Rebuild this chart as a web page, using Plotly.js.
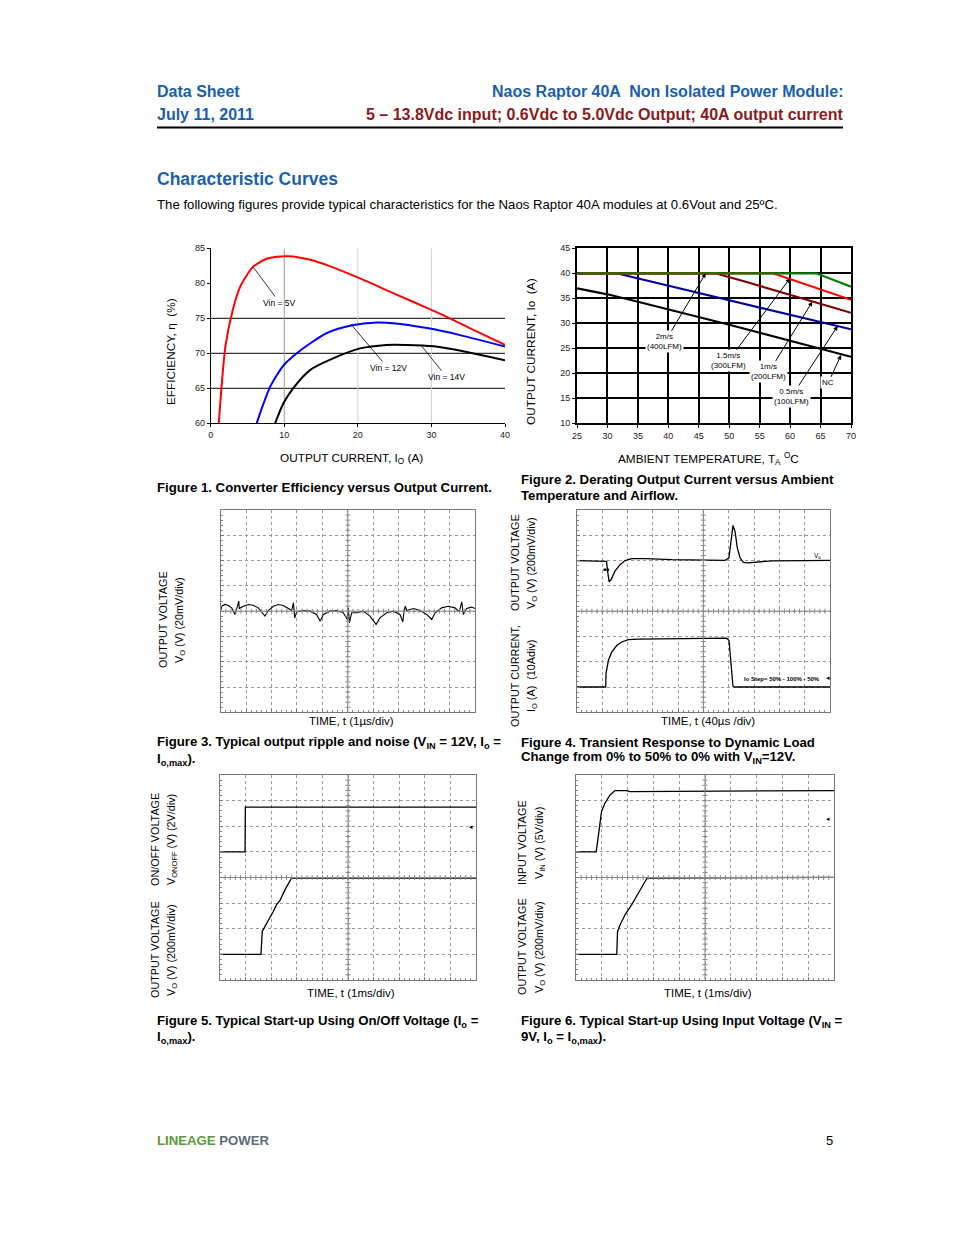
<!DOCTYPE html>
<html><head><meta charset="utf-8">
<script src="https://cdn.plot.ly/plotly-3.0.1.min.js"></script>
<style>html,body{margin:0;padding:0;background:#fff}#c{width:954px;height:1235px}</style>
</head><body><div id="c"></div>
<script>
// ---------- DATA ----------
// Figure 1: efficiency vs output current
const f1_i5  = [1.1, 2.0, 3.0, 4.0, 5.0, 5.8, 7.6, 9.0, 10.5, 12.0, 13.8, 15.8, 20.3, 24.8, 30, 32.5, 36, 40];
const f1_e5  = [60, 71.0, 76.2, 79.5, 81.3, 82.4, 83.5, 83.8, 83.85, 83.7, 83.3, 82.6, 80.7, 78.6, 76.2, 75.0, 73.2, 71.2];
const f1_i12 = [6.25, 7.1, 8.07, 9.0, 10, 11.7, 13.5, 15.8, 19.2, 22.6, 24.8, 29.4, 33.9, 40];
const f1_e12 = [60, 62.6, 65.2, 66.9, 68.4, 70.0, 71.4, 72.9, 74.0, 74.4, 74.3, 73.6, 72.6, 70.95];
const f1_i14 = [8.75, 9.9, 11.2, 13.5, 16.7, 20.3, 23.9, 26.6, 30.3, 34.8, 40];
const f1_e14 = [60, 62.9, 65.0, 67.6, 69.3, 70.7, 71.2, 71.2, 71.0, 70.2, 69.0];

// Figure 2: derating output current vs ambient temperature
const f2_nc_t = [25, 30, 35, 40, 45, 50, 55, 60, 65, 70];
const f2_nc_i = [37.0, 35.8, 34.3, 32.8, 31.2, 29.7, 28.1, 26.5, 24.9, 23.3];
const f2_05_t = [25, 31.5, 70];      const f2_05_i = [40, 40, 28.8];
const f2_1_t  = [25, 47.7, 53, 70];  const f2_1_i  = [40, 40, 38.2, 32.1];
const f2_15_t = [25, 57.2, 70];      const f2_15_i = [40, 40, 34.7];
const f2_2_t  = [25, 64.3, 70];      const f2_2_i  = [40, 40, 37.3];

// Figure 3: output ripple (time in us, deviation in mV)
const f3_t = [0.00,0.04,0.17,0.30,0.43,0.56,0.66,0.71,0.73,0.89,1.09,1.28,1.48,1.74,1.87,2.07,2.27,2.46,2.66,2.79,2.86,2.91,2.99,3.25,3.51,3.77,3.91,4.04,4.30,4.56,4.82,4.98,5.02,5.06,5.15,5.35,5.61,5.87,6.11,6.26,6.53,6.79,7.05,7.16,7.21,7.26,7.31,7.58,7.84,8.10,8.30,8.43,8.69,8.95,9.21,9.38,9.48,9.54,9.67,9.87,10.0];
const f3_v = [0.5,3.9,5.3,4.5,2.6,-2.6,3.9,7.9,2.1,3.9,5.3,4.7,2.6,-3.9,0.5,3.9,5.3,4.5,2.1,0.5,6.6,-5.3,-0.5,0.5,0,-2.6,-7.9,-2.6,0,0.5,-1.3,-6.6,2.6,-9.2,-1.3,-1.3,0,-3.9,-10.5,-5.3,-1.3,0,-2.6,-8.4,0,3.9,0.5,2.1,0.5,-2.6,-6.6,-1.3,2.6,3.9,2.6,-0.5,7.4,-2.6,2.1,3.2,2.1];

// Figure 4: transient response (time in us; Vo deviation in mV; Io in A)
const f4_vt = [0,44.8,47.2,48.8,51.2,54.4,60.4,68.4,76.4,86.8,108,150,202.8,234.4,240.4,243.6,246.8,250,253.6,258,263.2,271.2,286.8,308,360.4,400];
const f4_vv = [0,0,-6,-84,-168,-150,-84,-32,0,16,16,8,2,2,22,152,278,232,100,22,-14,-18,-10,-2,0,2];
const f4_it = [0,45.8,46.3,50,55.3,63.2,71.1,81.6,97.4,150,202.6,236.8,240.5,242.6,244.7,246.8,250,400];
const f4_ii = [0,0,5.3,10.5,13.8,16.4,17.8,18.7,18.9,19.1,19.1,19.3,18.4,12.5,3.3,0.3,0,0];

// Figure 5: start-up using On/Off (time in ms; V)
const f5_ot = [0, 0.98, 0.99, 10];
const f5_ov = [0, 0, 3.5, 3.5];
const f5_vt = [0,1.60,1.65,1.76,1.89,2.08,2.21,2.34,2.54,2.67,2.80,10];
const f5_vv = [0,0,0.179,0.218,0.257,0.335,0.388,0.419,0.505,0.551,0.596,0.596];

// Figure 6: start-up using input voltage (time in ms; V)
const f6_it = [0,0.78,0.83,0.90,0.99,1.12,1.32,1.51,1.96,2.09,10];
const f6_iv = [0,0,1.69,4.62,7.87,9.49,11.1,11.96,11.96,11.77,11.96];
const f6_vt = [0,1.58,1.61,1.71,1.90,2.16,2.42,2.61,2.76,10];
const f6_vv = [0,0,0.179,0.231,0.309,0.388,0.479,0.544,0.596,0.601];

// ---------- LAYOUT HELPERS ----------
const W = 954, H = 1235;
const px = x => x / W;
const py = y => 1 - y / H;
const FONT = 'Liberation Sans, Arial, Helvetica, sans-serif';
const BLUE = '#1a5fab', DRED = '#8b1a1a';

const traces = [];
function line(x, y, xa, ya, color, width, shape) {
  traces.push({x: x, y: y, xaxis: xa, yaxis: ya, type: 'scatter', mode: 'lines',
    line: {color: color, width: width, shape: shape || 'linear', smoothing: 0.7}, hoverinfo: 'skip', showlegend: false});
}
line(f1_i5, f1_e5, 'x', 'y', '#ff0000', 2, 'spline');
line(f1_i12, f1_e12, 'x', 'y', '#0000ff', 2, 'spline');
line(f1_i14, f1_e14, 'x', 'y', '#000000', 2, 'spline');

line(f2_nc_t, f2_nc_i, 'x2', 'y2', '#000000', 2.2);
line(f2_05_t, f2_05_i, 'x2', 'y2', '#000099', 2.2);
line(f2_1_t, f2_1_i, 'x2', 'y2', '#800000', 2.2);
line(f2_15_t, f2_15_i, 'x2', 'y2', '#ff0000', 2.2);
line(f2_2_t, f2_2_i, 'x2', 'y2', '#008000', 2.2);

line(f3_t, f3_v, 'x3', 'y3', '#000', 1.1);
line(f4_vt, f4_vv, 'x4', 'y4', '#000', 1.3);
line(f4_it, f4_ii, 'x4', 'y5', '#000', 1.3);
line(f5_ot, f5_ov, 'x5', 'y6', '#000', 1.3);
line(f5_vt, f5_vv, 'x5', 'y7', '#000', 1.3);
line(f6_it, f6_iv, 'x6', 'y8', '#000', 1.3);
line(f6_vt, f6_vv, 'x6', 'y9', '#000', 1.3);

const tickFont = {family: FONT, size: 9, color: '#222'};

function scopeX(dom, range, dt) {
  return {domain: dom, range: range, dtick: dt, tick0: 0, showgrid: true, gridcolor: '#999',
    griddash: 'dot', gridwidth: 1, zeroline: false, showline: true, mirror: true,
    linecolor: '#777', linewidth: 1, showticklabels: false, ticks: 'inside', ticklen: 3,
    tickcolor: '#777', minor: {dtick: dt / 5, ticks: 'inside', ticklen: 2, tickcolor: '#888', showgrid: false},
    fixedrange: true};
}
function scopeY(dom, range, dt, anchor) {
  return {domain: dom, range: range, dtick: dt, tick0: 0, anchor: anchor, showgrid: true,
    gridcolor: '#999', griddash: 'dot', gridwidth: 1, zeroline: false, showline: true,
    mirror: true, linecolor: '#777', linewidth: 1, showticklabels: false, ticks: 'inside',
    ticklen: 3, tickcolor: '#777', minor: {dtick: dt / 5, ticks: 'inside', ticklen: 2, tickcolor: '#888', showgrid: false},
    fixedrange: true};
}
function overlayY(ov, range, anchor) {
  return {overlaying: ov, range: range, anchor: anchor, showgrid: false, zeroline: false,
    showline: false, showticklabels: false, ticks: '', fixedrange: true};
}

const d3x = [px(220.7), px(475)], d34y = [py(712.3), py(510)];
const d4x = [px(576.7), px(830)];
const d5x = [px(220), px(476)], d56y = [py(980), py(775)];
const d6x = [px(576), px(834)];

const layout = {
  width: W, height: H, margin: {l: 0, r: 0, t: 0, b: 0},
  paper_bgcolor: '#fff', plot_bgcolor: 'rgba(0,0,0,0)', showlegend: false,
  font: {family: FONT, color: '#000'},
  xaxis: {domain: [px(210.7), px(505)], range: [0, 40], dtick: 10, showgrid: false, zeroline: false,
    showline: true, linecolor: '#000', linewidth: 1, ticks: 'outside', ticklen: 3, tickcolor: '#000',
    tickfont: tickFont, anchor: 'y', fixedrange: true},
  yaxis: {domain: [py(423.3), py(248.3)], range: [60, 85], dtick: 5, showgrid: false, zeroline: false,
    showline: true, linecolor: '#000', linewidth: 1, ticks: 'outside', ticklen: 3, tickcolor: '#000',
    tickfont: tickFont, anchor: 'x', fixedrange: true},
  xaxis2: {domain: [px(577), px(851)], range: [25, 70], dtick: 5, showgrid: true, gridcolor: '#000',
    gridwidth: 2, zeroline: false, showline: true, mirror: true, linecolor: '#000', linewidth: 2,
    ticks: 'outside', ticklen: 3, tickcolor: '#000', tickfont: tickFont, anchor: 'y2', fixedrange: true},
  yaxis2: {domain: [py(423.3), py(248.3)], range: [10, 45], dtick: 5, showgrid: true, gridcolor: '#000',
    gridwidth: 2, zeroline: false, showline: true, mirror: true, linecolor: '#000', linewidth: 2,
    ticks: 'outside', ticklen: 3, tickcolor: '#000', tickfont: tickFont, anchor: 'x2', fixedrange: true},
  xaxis3: Object.assign(scopeX(d3x, [0, 10], 1), {anchor: 'y3'}),
  yaxis3: scopeY(d34y, [-80, 80], 20, 'x3'),
  xaxis4: Object.assign(scopeX(d4x, [0, 400], 40), {anchor: 'y4'}),
  yaxis4: scopeY(d34y, [-1200, 400], 200, 'x4'),
  yaxis5: overlayY('y4', [-10, 70], 'x4'),
  xaxis5: Object.assign(scopeX(d5x, [0, 10], 1), {anchor: 'y6'}),
  yaxis6: scopeY(d56y, [-10, 6], 2, 'x5'),
  yaxis7: overlayY('y6', [-0.2, 1.4], 'x5'),
  xaxis6: Object.assign(scopeX(d6x, [0, 10], 1), {anchor: 'y8'}),
  yaxis8: scopeY(d56y, [-25, 15], 5, 'x6'),
  yaxis9: overlayY('y8', [-0.2, 1.4], 'x6'),
  shapes: [], annotations: []
};

const S = layout.shapes, A = layout.annotations;
// Header rule
S.push({type: 'line', xref: 'paper', yref: 'paper', x0: px(157), x1: px(843), y0: py(127.5), y1: py(127.5), line: {color: '#000', width: 2}});

// Figure 1 grid lines
[65, 70, 75].forEach(v => S.push({type: 'line', xref: 'x', yref: 'y', x0: 0, x1: 40, y0: v, y1: v, line: {color: '#000', width: 1}, layer: 'below'}));
[[10, '#999'], [20, '#d0d0d0'], [30, '#d0d0d0']].forEach(g => S.push({type: 'line', xref: 'x', yref: 'y', x0: g[0], x1: g[0], y0: 60, y1: 85, line: {color: g[1], width: 1}, layer: 'below'}));

// Scope centre cross-hairs with small graduation marks
function crosshair(xa, ya) {
  const xd = xa + ' domain', yd = ya + ' domain';
  S.push({type: 'line', xref: xd, yref: yd, x0: 0.5, x1: 0.5, y0: 0, y1: 1, line: {color: '#888', width: 1}});
  S.push({type: 'line', xref: xd, yref: yd, x0: 0, x1: 1, y0: 0.5, y1: 0.5, line: {color: '#888', width: 1}});
  for (let i = 1; i < 50; i++) {
    S.push({type: 'line', xref: xd, yref: yd, x0: i / 50, x1: i / 50, y0: 0.5 - 0.012, y1: 0.5 + 0.012, line: {color: '#888', width: 1}});
  }
  for (let i = 1; i < 40; i++) {
    S.push({type: 'line', xref: xd, yref: yd, x0: 0.5 - 0.01, x1: 0.5 + 0.01, y0: i / 40, y1: i / 40, line: {color: '#888', width: 1}});
  }
}
crosshair('x3', 'y3'); crosshair('x4', 'y4'); crosshair('x5', 'y6'); crosshair('x6', 'y8');

// ---------- TEXT ----------
function txt(x, y, text, size, opts) {
  const o = opts || {};
  const xa = o.xanchor || 'left';
  const dx = xa === 'left' ? -2 : (xa === 'right' ? 2 : 0);
  A.push(Object.assign({xref: 'paper', yref: 'paper', x: px(x + dx), y: py(y), text: text, showarrow: false,
    xanchor: 'left', yanchor: 'middle', font: {family: FONT, size: size, color: '#000'}}, o));
}
// header
txt(157, 92, '<b>Data Sheet</b>', 16, {font: {family: FONT, size: 16, color: BLUE}});
txt(157, 115, '<b>July 11, 2011</b>', 16, {font: {family: FONT, size: 16, color: BLUE}});
txt(843, 92, '<b>Naos Raptor 40A  Non Isolated Power Module:</b>', 16, {xanchor: 'right', font: {family: FONT, size: 16, color: BLUE}});
txt(843, 115, '<b>5 – 13.8Vdc input; 0.6Vdc to 5.0Vdc Output; 40A output current</b>', 16, {xanchor: 'right', font: {family: FONT, size: 16, color: DRED}});
txt(157, 179, '<b>Characteristic Curves</b>', 17.5, {font: {family: FONT, size: 17.5, color: BLUE}});
txt(157, 204, 'The following figures provide typical characteristics for the Naos Raptor 40A modules at 0.6Vout and 25ºC.', 13.2);

const CAP = 13.2, AX = 11.8, SCV = 10.8, SCH = 11.5;
// Figure 1 text
txt(171, 352, 'EFFICIENCY, η  (%)', AX, {xanchor: 'center', textangle: -90});
txt(351, 459, 'OUTPUT CURRENT, I<sub>O</sub> (A)', AX, {xanchor: 'center'});
txt(157, 487, '<b>Figure 1. Converter Efficiency versus Output Current.</b>', CAP);
function lab1(x, y, tx, ty, text) {
  A.push({xref: 'x', yref: 'y', x: x, y: y, axref: 'x', ayref: 'y', ax: tx, ay: ty, text: text,
    showarrow: true, arrowhead: 0, arrowwidth: 0.8, arrowcolor: '#000', standoff: 0,
    font: {family: FONT, size: 8.5, color: '#000'}});
}
lab1(5.79, 82.29, 9.4, 77.2, 'Vin = 5V');
lab1(19.06, 74.14, 24.1, 67.9, 'Vin = 12V');
lab1(28.67, 71.04, 32.07, 66.6, 'Vin = 14V');

// Figure 2 text
txt(531, 352, 'OUTPUT CURRENT, Io  (A)', AX, {xanchor: 'center', textangle: -90});
txt(708, 459, 'AMBIENT TEMPERATURE, T<sub>A</sub> <sup>O</sup>C', AX, {xanchor: 'center'});
txt(521, 479, '<b>Figure 2. Derating Output Current versus Ambient</b>', CAP);
txt(521, 495, '<b>Temperature and Airflow.</b>', CAP);
function lab2(x, y, tx, ty, text) {
  A.push({xref: 'x2', yref: 'y2', x: x, y: y, axref: 'x2', ayref: 'y2', ax: tx, ay: ty, text: text,
    showarrow: true, arrowhead: 2, arrowsize: 0.9, arrowwidth: 1, arrowcolor: '#000', standoff: 0,
    bgcolor: '#fff', borderpad: 1, font: {family: FONT, size: 8, color: '#000'}});
}
lab2(46.14, 40.0, 39.45, 26.3, '2m/s<br>(400LFM)');
lab2(59.98, 39.0, 49.85, 22.5, '1.5m/s<br>(300LFM)');
lab2(63.64, 34.32, 56.53, 20.3, '1m/s<br>(200LFM)');
lab2(67.81, 29.46, 60.26, 15.4, '0.5m/s<br>(100LFM)');
lab2(68.36, 23.66, 66.27, 18.1, 'NC');

// Figure 3 text
txt(163, 620, 'OUTPUT VOLTAGE', SCV, {xanchor: 'center', textangle: -90});
txt(180, 620, 'V<sub>O</sub> (V) (20mV/div)', SCV, {xanchor: 'center', textangle: -90});
txt(351, 721, 'TIME, t (1µs/div)', SCH, {xanchor: 'center'});
txt(157, 743, '<b>Figure 3. Typical output ripple and noise (V<sub>IN</sub> = 12V, I<sub>o</sub> =</b>', CAP);
txt(157, 759, '<b>I<sub>o,max</sub>).</b>', CAP);

// Figure 4 text
txt(515, 563, 'OUTPUT VOLTAGE', SCV, {xanchor: 'center', textangle: -90});
txt(532, 563, 'V<sub>O</sub> (V) (200mV/div)', SCV, {xanchor: 'center', textangle: -90});
txt(515, 676, 'OUTPUT CURRENT,', SCV, {xanchor: 'center', textangle: -90});
txt(532, 676, 'I<sub>O</sub> (A)  (10Adiv)', SCV, {xanchor: 'center', textangle: -90});
txt(708, 721, 'TIME, t (40µs /div)', SCH, {xanchor: 'center'});
txt(521, 743, '<b>Figure 4. Transient Response to Dynamic Load</b>', CAP);
txt(521, 758, '<b>Change from 0% to 50% to 0% with V<sub>IN</sub>=12V.</b>', CAP);
txt(814, 556, 'V<sub>o</sub>', 6.5);
txt(744, 679, '<b>Io Step= 50% - 100% - 50%</b>', 6);
txt(826, 677, '◂', 7);
txt(603, 569, '■■', 5);

// Figure 5 text
txt(155, 840, 'ON/OFF VOLTAGE', SCV, {xanchor: 'center', textangle: -90});
txt(172, 840, 'V<sub>ONOFF</sub> (V) (2V/div)', SCV, {xanchor: 'center', textangle: -90});
txt(155, 950, 'OUTPUT VOLTAGE', SCV, {xanchor: 'center', textangle: -90});
txt(172, 950, 'V<sub>O</sub> (V) (200mV/div)', SCV, {xanchor: 'center', textangle: -90});
txt(351, 993, 'TIME, t (1ms/div)', SCH, {xanchor: 'center'});
txt(157, 1021, '<b>Figure 5. Typical Start-up Using On/Off Voltage (I<sub>o</sub> =</b>', CAP);
txt(157, 1037, '<b>I<sub>o,max</sub>).</b>', CAP);
txt(469, 826, '◂', 7);

// Figure 6 text
txt(522, 843, 'INPUT VOLTAGE', SCV, {xanchor: 'center', textangle: -90});
txt(540, 843, 'V<sub>IN</sub> (V) (5V/div)', SCV, {xanchor: 'center', textangle: -90});
txt(522, 947, 'OUTPUT VOLTAGE', SCV, {xanchor: 'center', textangle: -90});
txt(540, 947, 'V<sub>O</sub> (V) (200mV/div)', SCV, {xanchor: 'center', textangle: -90});
txt(708, 993, 'TIME, t (1ms/div)', SCH, {xanchor: 'center'});
txt(521, 1021, '<b>Figure 6. Typical Start-up Using Input Voltage (V<sub>IN</sub> =</b>', CAP);
txt(521, 1037, '<b>9V, I<sub>o</sub> = I<sub>o,max</sub>).</b>', CAP);
txt(826, 819, '◂', 7);

// Footer
txt(157, 1140, '<b><span style="color:#5b9a3c">LINEAGE</span> <span style="color:#5f6b78">POWER</span></b>', 13.2);
txt(833, 1140, '5', 13, {xanchor: 'right'});

Plotly.newPlot('c', traces, layout, {staticPlot: true, displayModeBar: false});
</script>
</body></html>
